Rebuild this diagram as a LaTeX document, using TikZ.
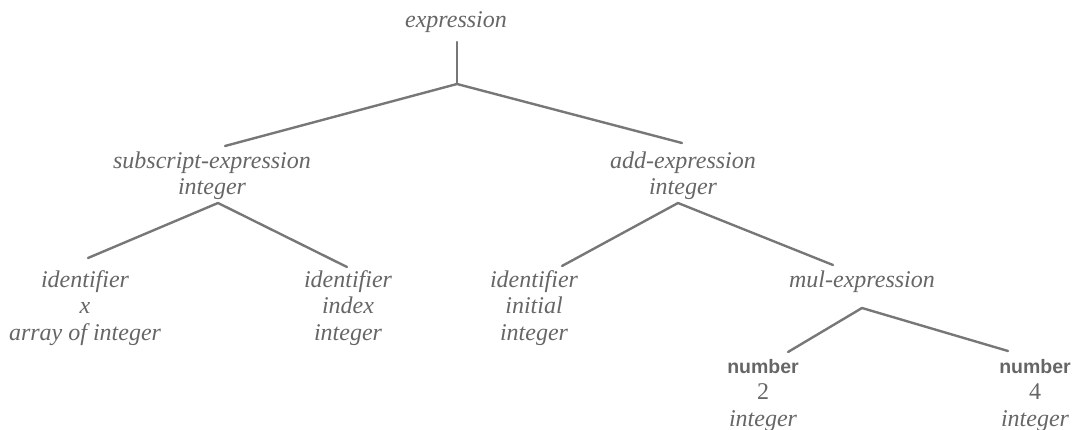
\documentclass[tikz,border=0pt]{standalone}
\usepackage{fontspec}
\setmainfont{Liberation Serif}
\newfontfamily\numfont{Liberation Sans}
\definecolor{treegray}{HTML}{777777}
\definecolor{textgray}{HTML}{666666}
\tikzset{
  lab/.style={align=center, inner sep=0pt, anchor=north, text=textgray,
    font=\itshape\fontsize{24}{26.5}\selectfont},
  branch/.style={draw=treegray, line width=2.4pt, line cap=round, line join=round},
}
\newcommand{\numword}{{\upshape\numfont\bfseries\fontsize{19.5}{26.5}\selectfont number}}
\newcommand{\upnum}[1]{{\upshape #1}}
\begin{document}
\begin{tikzpicture}[x=1pt,y=-1pt]
\useasboundingbox (0,0) rectangle (1080,430);
% nodes (north = baseline - 18.55)
\node[lab] (root) at (456,8.5) {\strut expression};
\node[lab] (sub) at (212,149.5) {\strut subscript-expression\\integer};
\node[lab] (add) at (683,149.5) {\strut add-expression\\integer};
\node[lab] (idx) at (85,268.5) {\strut identifier\\x\\array of integer};
\node[lab] (idindex) at (348,268.5) {\strut identifier\\index\\integer};
\node[lab] (idinit) at (534,268.5) {\strut identifier\\initial\\integer};
\node[lab] (mul) at (862,268.5) {\strut mul-expression};
\node[lab] (numa) at (763,354.5) {\strut\numword\\\upnum{2}\\integer};
\node[lab] (numb) at (1035,354.5) {\strut\numword\\\upnum{4}\\integer};
% connector points
\coordinate (r0) at (457,42);
\coordinate (j0) at (457,84);
\coordinate (subtop) at (225,146);
\coordinate (addtop) at (682,143);
\coordinate (j1) at (218,203);
\coordinate (idxtop) at (88,258);
\coordinate (idindextop) at (347,267);
\coordinate (j2) at (678,203);
\coordinate (idinittop) at (562,266);
\coordinate (multop) at (833,265);
\coordinate (j3) at (862,308);
\coordinate (numatop) at (788,352);
\coordinate (numbtop) at (1008,351);
% connectors
\draw[branch] (r0) -- (j0);
\draw[branch] (subtop) -- (j0) -- (addtop);
\draw[branch] (idxtop) -- (j1) -- (idindextop);
\draw[branch] (idinittop) -- (j2) -- (multop);
\draw[branch] (numatop) -- (j3) -- (numbtop);
\end{tikzpicture}
\end{document}
